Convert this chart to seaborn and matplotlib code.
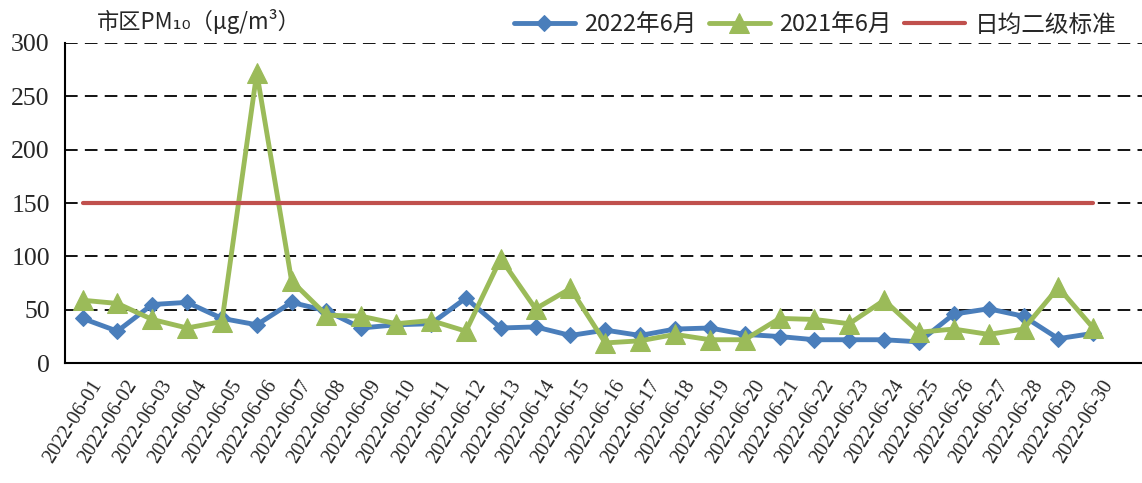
import seaborn as sns
import matplotlib.pyplot as plt
import matplotlib.transforms as mtransforms
import pandas as pd

dates = [f"2022-06-{d:02d}" for d in range(1, 31)]
pm10_2022 = [42, 30, 55, 57, 42, 36, 57, 49, 33, 36, 37, 61, 33, 34, 26,
             31, 26, 32, 33, 27, 25, 22, 22, 22, 20, 46, 51, 44, 23, 28]
pm10_2021 = [59, 56, 41, 33, 39, 272, 77, 45, 44, 37, 40, 30, 98, 51, 70,
             19, 21, 27, 22, 22, 42, 41, 37, 59, 29, 32, 27, 32, 71, 33]
standard = [150] * 30
y_ticks = [0, 50, 100, 150, 200, 250, 300]

df = pd.DataFrame({"date": dates, "y2022": pm10_2022,
                   "y2021": pm10_2021, "std": standard})
df["pos"] = range(len(df))

sns.set_style("white")
plt.rcParams["font.family"] = ["Noto Sans CJK SC", "DejaVu Sans"]

fig = plt.figure(figsize=(11.42, 4.83), dpi=100)
ax = fig.add_axes([0.057, 0.248, 0.943, 0.663])

sns.lineplot(data=df, x="pos", y="y2022", ax=ax, color="#4A7EBB", linewidth=3.5,
             marker="D", markersize=8.5, markeredgecolor="#4A7EBB", label="2022年6月")
sns.lineplot(data=df, x="pos", y="y2021", ax=ax, color="#9BBB59", linewidth=3.5,
             marker="^", markersize=15, markeredgecolor="#9BBB59", label="2021年6月")
sns.lineplot(data=df, x="pos", y="std", ax=ax, color="#C0504D", linewidth=3,
             label="日均二级标准")

ax.set_xlim(-0.5, len(dates) + 0.4)
ax.set_ylim(0, 300)
ax.set_yticks(y_ticks)
ax.set_yticklabels([str(v) for v in y_ticks], fontfamily="Liberation Serif", fontsize=18.5)
ax.set_xticks(df["pos"])
ax.set_xticklabels(dates, rotation=58, ha="right", rotation_mode="anchor",
                   fontfamily="Liberation Serif", fontsize=14.5)
ax.set_xticks([p + 0.5 for p in df["pos"]], minor=True)
ax.tick_params(axis="x", which="major", length=0, pad=10)
ax.tick_params(axis="x", which="minor", direction="in", length=7, width=1.2, color="black")
ax.tick_params(axis="y", direction="out", length=5, width=1.2, color="black", pad=6)
ax.set_xlabel("")
ax.set_ylabel("")

# nudge rotated date labels slightly to the right
shift = mtransforms.ScaledTranslation(8 / 100, 0, fig.dpi_scale_trans)
for lbl in ax.get_xticklabels():
    lbl.set_transform(lbl.get_transform() + shift)

for v in y_ticks[1:]:
    ax.axhline(v, color="black", linestyle=(0, (7, 4)), linewidth=1.3, zorder=0)

for side in ["top", "right"]:
    ax.spines[side].set_visible(False)
for side in ["left", "bottom"]:
    ax.spines[side].set_color("black")
    ax.spines[side].set_linewidth(1.5)

ax.legend(loc="lower right", bbox_to_anchor=(0.985, 0.99), ncol=3, frameon=False,
          fontsize=17, handlelength=2.6, columnspacing=0.5, handletextpad=0.4,
          borderaxespad=0.0)

fig.text(0.085, 0.955, "市区PM₁₀（μg/m³）", fontsize=16, va="center", ha="left",
         family=["Noto Sans CJK SC", "DejaVu Sans"])

plt.savefig("out.png", dpi=100)
plt.close()
